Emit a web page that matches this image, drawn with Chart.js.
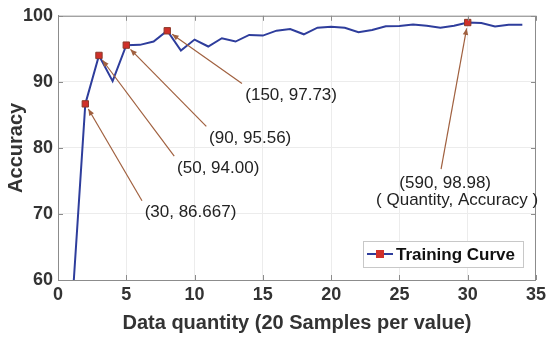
<!DOCTYPE html>
<html>
<head>
<meta charset="utf-8">
<script src="https://cdn.jsdelivr.net/npm/chart.js@4/dist/chart.umd.min.js"></script>
<style>
  html, body { margin: 0; padding: 0; background: #fff; }
  #wrap { width: 550px; height: 339px; }
</style>
</head>
<body>
<div id="wrap"><canvas id="acc-chart"></canvas></div>
<script>
// Training curve data
const quantities = [1, 2, 3, 4, 5, 6, 7, 8, 9, 10, 11, 12, 13, 14, 15, 16, 17,
  18, 19, 20, 21, 22, 23, 24, 25, 26, 27, 28, 29, 30, 31, 32, 33, 34];
const accuracy = [55, 86.667, 94.0, 90.1, 95.56, 95.6, 96.1, 97.73, 94.75, 96.4,
  95.35, 96.6, 96.1, 97.1, 97.0, 97.75, 98.0, 97.2, 98.2, 98.35, 98.2, 97.5,
  97.85, 98.4, 98.45, 98.7, 98.5, 98.2, 98.5, 98.98, 98.9, 98.4, 98.65, 98.65];
const markedPoints = [2, 3, 5, 8, 30];
const markedLabels = ["(30, 86.667)", "(50, 94.00)", "(90, 95.56)", "(150, 97.73)", "(590, 98.98)"];
const xTicks = [0, 5, 10, 15, 20, 25, 30, 35];
const yTicks = [60, 70, 80, 90, 100];

// where each callout text sits (data units) and where its arrow starts
const callouts = [
  { tx: 9.7, ty: 70.2, ax: 6.15, ay: 72.0 },
  { tx: 11.73, ty: 76.96, ax: 8.51, ay: 78.75 },
  { tx: 14.07, ty: 81.45, ax: 10.86, ay: 83.25 },
  { tx: 17.07, ty: 87.9, ax: 13.47, ay: 89.75 },
  { tx: 28.35, ty: 74.7, ax: 28.05, ay: 76.8, extra: "( Quantity, Accuracy )" },
];

const lineColor = "#2e3d9c";
const markColor = "#d0302a";
const arrowColor = "#a0603f";
const axisColor = "#8c8c8c";
const textColor = "#333333";

const points = quantities.map((q, i) => ({ x: q, y: accuracy[i] }));
const isMarked = (ctx) => markedPoints.includes(quantities[ctx.dataIndex]);

const decorPlugin = {
  id: "decor",
  afterDatasetsDraw(chart) {
    const { ctx, chartArea: a, scales } = chart;
    const xs = scales.x, ys = scales.y;
    ctx.save();
    // frame
    ctx.strokeStyle = axisColor;
    ctx.lineWidth = 1;
    ctx.strokeRect(a.left + 0.5, a.top + 0.5, a.right - a.left - 1, a.bottom - a.top);
    // inner ticks
    ctx.beginPath();
    xTicks.forEach((t) => {
      const px = Math.round(xs.getPixelForValue(t)) + 0.5;
      ctx.moveTo(px, a.bottom); ctx.lineTo(px, a.bottom - 5);
      ctx.moveTo(px, a.top); ctx.lineTo(px, a.top + 5);
    });
    yTicks.forEach((t) => {
      const py = Math.round(ys.getPixelForValue(t)) + 0.5;
      ctx.moveTo(a.left, py); ctx.lineTo(a.left + 5, py);
      ctx.moveTo(a.right, py); ctx.lineTo(a.right - 5, py);
    });
    ctx.stroke();

    // callouts
    ctx.font = "17px 'Liberation Sans', Arial, sans-serif";
    ctx.fillStyle = "#222";
    ctx.textAlign = "center";
    ctx.textBaseline = "middle";
    callouts.forEach((c, i) => {
      const q = markedPoints[i];
      const mx = xs.getPixelForValue(q);
      const my = ys.getPixelForValue(accuracy[quantities.indexOf(q)]);
      const sx = xs.getPixelForValue(c.ax), sy = ys.getPixelForValue(c.ay);
      const dx = sx - mx, dy = sy - my, len = Math.hypot(dx, dy);
      const hx = mx + dx / len * 6, hy = my + dy / len * 6;
      ctx.strokeStyle = arrowColor;
      ctx.lineWidth = 1.2;
      ctx.beginPath(); ctx.moveTo(sx, sy); ctx.lineTo(hx, hy); ctx.stroke();
      const ang = Math.atan2(hy - sy, hx - sx);
      ctx.fillStyle = arrowColor;
      ctx.beginPath();
      ctx.moveTo(hx, hy);
      ctx.lineTo(hx - 7 * Math.cos(ang - 0.4), hy - 7 * Math.sin(ang - 0.4));
      ctx.lineTo(hx - 7 * Math.cos(ang + 0.4), hy - 7 * Math.sin(ang + 0.4));
      ctx.closePath(); ctx.fill();
      ctx.fillStyle = "#222";
      const tx = xs.getPixelForValue(c.tx), ty = ys.getPixelForValue(c.ty);
      ctx.fillText(markedLabels[i], tx, ty);
      if (c.extra) ctx.fillText(c.extra, tx + 12, ty + 17);
    });

    // legend box inside lower right
    const lw = 160, lh = 26;
    const lx = a.right - 13 - lw, ly = a.bottom - 13 - lh;
    ctx.fillStyle = "#fff";
    ctx.fillRect(lx, ly, lw, lh);
    ctx.strokeStyle = "#c8c8c8";
    ctx.lineWidth = 1;
    ctx.strokeRect(lx + 0.5, ly + 0.5, lw, lh);
    const cy = ly + lh / 2;
    ctx.strokeStyle = lineColor; ctx.lineWidth = 2;
    ctx.beginPath(); ctx.moveTo(lx + 4, cy); ctx.lineTo(lx + 30, cy); ctx.stroke();
    ctx.fillStyle = markColor;
    ctx.fillRect(lx + 13, cy - 4, 8, 8);
    ctx.fillStyle = "#111";
    ctx.textAlign = "left";
    ctx.font = "bold 17px 'Liberation Sans', Arial, sans-serif";
    ctx.fillText(chart.data.datasets[0].label, lx + 33, cy + 1);
    ctx.restore();
  },
};

const accCtx = document.getElementById("acc-chart").getContext("2d");
new Chart(accCtx, {
  type: "line",
  data: {
    datasets: [
      {
        label: "Training Curve",
        data: points,
        borderColor: lineColor,
        borderWidth: 2,
        tension: 0,
        fill: false,
        pointStyle: "rect",
        pointRadius: (ctx) => (isMarked(ctx) ? 4.5 : 0),
        pointBackgroundColor: markColor,
        pointBorderColor: "#8b3a2a",
        pointBorderWidth: 1,
      },
    ],
  },
  options: {
    responsive: true,
    maintainAspectRatio: false,
    animation: false,
    layout: { padding: { top: 13, right: 14, left: 0, bottom: 0 } },
    plugins: { legend: { display: false }, tooltip: { enabled: false } },
    scales: {
      x: {
        type: "linear",
        min: 0,
        max: 35,
        afterBuildTicks: (s) => { s.ticks = xTicks.map((v) => ({ value: v })); },
        afterFit: (s) => { s.height = 59; },
        grid: { color: "#ececec", drawTicks: false },
        border: { color: axisColor },
        ticks: {
          color: textColor,
          padding: 4,
          font: { family: "'Liberation Sans', Arial", size: 18, weight: "bold" },
        },
        title: {
          display: true,
          text: "Data quantity (20 Samples per value)",
          color: textColor,
          padding: { top: 0 },
          font: { family: "'Liberation Sans', Arial", size: 20, weight: "bold" },
        },
      },
      y: {
        min: 60,
        max: 100,
        afterBuildTicks: (s) => { s.ticks = yTicks.map((v) => ({ value: v })); },
        afterFit: (s) => { s.width = 58; },
        grid: { color: "#ececec", drawTicks: false },
        border: { color: axisColor },
        ticks: {
          color: textColor,
          padding: 5,
          font: { family: "'Liberation Sans', Arial", size: 18, weight: "bold" },
        },
        title: {
          display: true,
          text: "Accuracy",
          color: textColor,
          padding: { bottom: 0 },
          font: { family: "'Liberation Sans', Arial", size: 20, weight: "bold" },
        },
      },
    },
  },
  plugins: [decorPlugin],
});
</script>
</body>
</html>
